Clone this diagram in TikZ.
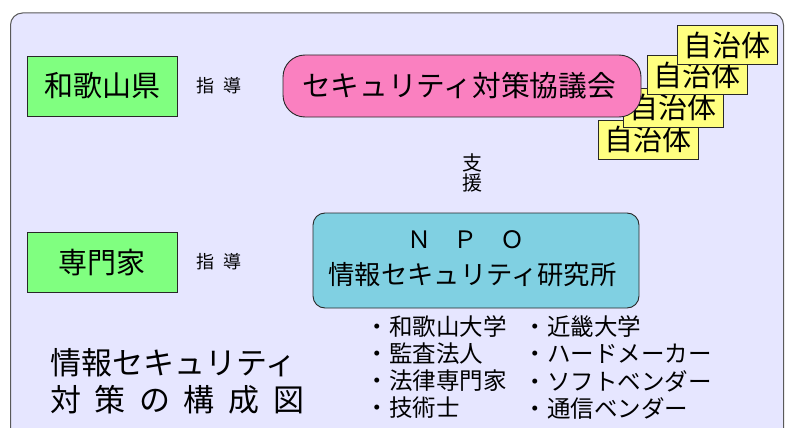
\documentclass[tikz,border=0pt]{standalone}
\usepackage{fontspec}
\setmainfont{Noto Sans CJK JP}
\definecolor{bgc}{RGB}{230,230,255}
\definecolor{grn}{RGB}{128,255,128}
\definecolor{pnk}{RGB}{250,128,192}
\definecolor{cyn}{RGB}{128,208,226}
\definecolor{ylw}{RGB}{255,255,128}
\definecolor{edge}{RGB}{40,40,40}
\tikzset{
  greenbox/.style={draw=edge, line width=0.9pt, fill=grn, minimum width=150pt, minimum height=60pt, inner sep=0pt, font=\fontsize{29}{29}\selectfont},
  jitai/.style={draw=edge, line width=0.9pt, fill=ylw, minimum width=100pt, minimum height=39pt, inner sep=0pt, font=\fontsize{29}{29}\selectfont},
  guide/.style={inner sep=0pt, font=\fontsize{18}{18}\selectfont},
  item/.style={anchor=west, inner sep=0pt, font=\fontsize{23.5}{23.5}\selectfont},
  title/.style={anchor=west, inner sep=0pt, font=\fontsize{31}{31}\selectfont}
}
\begin{document}
\begin{tikzpicture}[x=1pt,y=-1pt]
\useasboundingbox (0,0) rectangle (785,428);
% background panel
\draw[draw=black!65, line width=1pt, fill=bgc, rounded corners=12pt] (10.5,13) rectangle (783.5,450);

% left boxes
\node[greenbox] (wakayama) at (102,86) {和歌山県};
\node[greenbox] (expert) at (102,262.5) {専門家};

% guidance labels
\node[guide] (shido1) at (218.5,86) {指\hspace{0.5em}導};
\node[guide] (shido2) at (218.5,262) {指\hspace{0.5em}導};

% municipalities (back to front)
\node[jitai] (j4) at (648,139.5) {自治体};
\node[jitai] (j3) at (673,107.5) {自治体};

% council
\node[draw=edge, line width=0.9pt, fill=pnk, rounded corners=22pt, minimum width=358pt, minimum height=62pt, inner sep=0pt] (council) at (462,86) {};
\node[inner sep=0pt, font=\fontsize{28.7}{28.7}\selectfont] (counciltext) at (459,86) {セキュリティ対策協議会};

\node[jitai] (j2) at (697,75) {自治体};
\node[jitai] (j1) at (727,45) {自治体};

% support
\node[inner sep=0pt, align=center, font=\fontsize{20}{20}\selectfont] (shien) at (472,173) {支\\援};

% NPO
\node[draw=edge, line width=0.9pt, fill=cyn, rounded corners=12pt, minimum width=326pt, minimum height=95pt, inner sep=0pt] (npo) at (476,260.5) {};
\node[inner sep=0pt, font=\fontsize{24}{24}\selectfont] (npo1) at (466,240) {Ｎ\hspace{0.95em}Ｐ\hspace{0.95em}Ｏ};
\node[inner sep=0pt, font=\fontsize{26.3}{26.3}\selectfont] (npo2) at (472.5,275) {情報セキュリティ研究所};

% members
\node[item] (m1) at (365.5,327) {・和歌山大学};
\node[item] (m2) at (365.5,354) {・監査法人};
\node[item] (m3) at (365.5,381) {・法律専門家};
\node[item] (m4) at (365.5,408) {・技術士};
\node[item] (m5) at (523.5,327) {・近畿大学};
\node[item] (m6) at (523.5,354) {・ハードメーカー};
\node[item] (m7) at (523.5,381) {・ソフトベンダー};
\node[item] (m8) at (523.5,408) {・通信ベンダー};

% title
\node[title] (t1) at (50,363) {\makebox[248pt][s]{情報セキュリティ}};
\node[title] (t2) at (50,400) {\makebox[254pt][s]{対\hfill 策\hfill の\hfill 構\hfill 成\hfill 図}};
\end{tikzpicture}
\end{document}
